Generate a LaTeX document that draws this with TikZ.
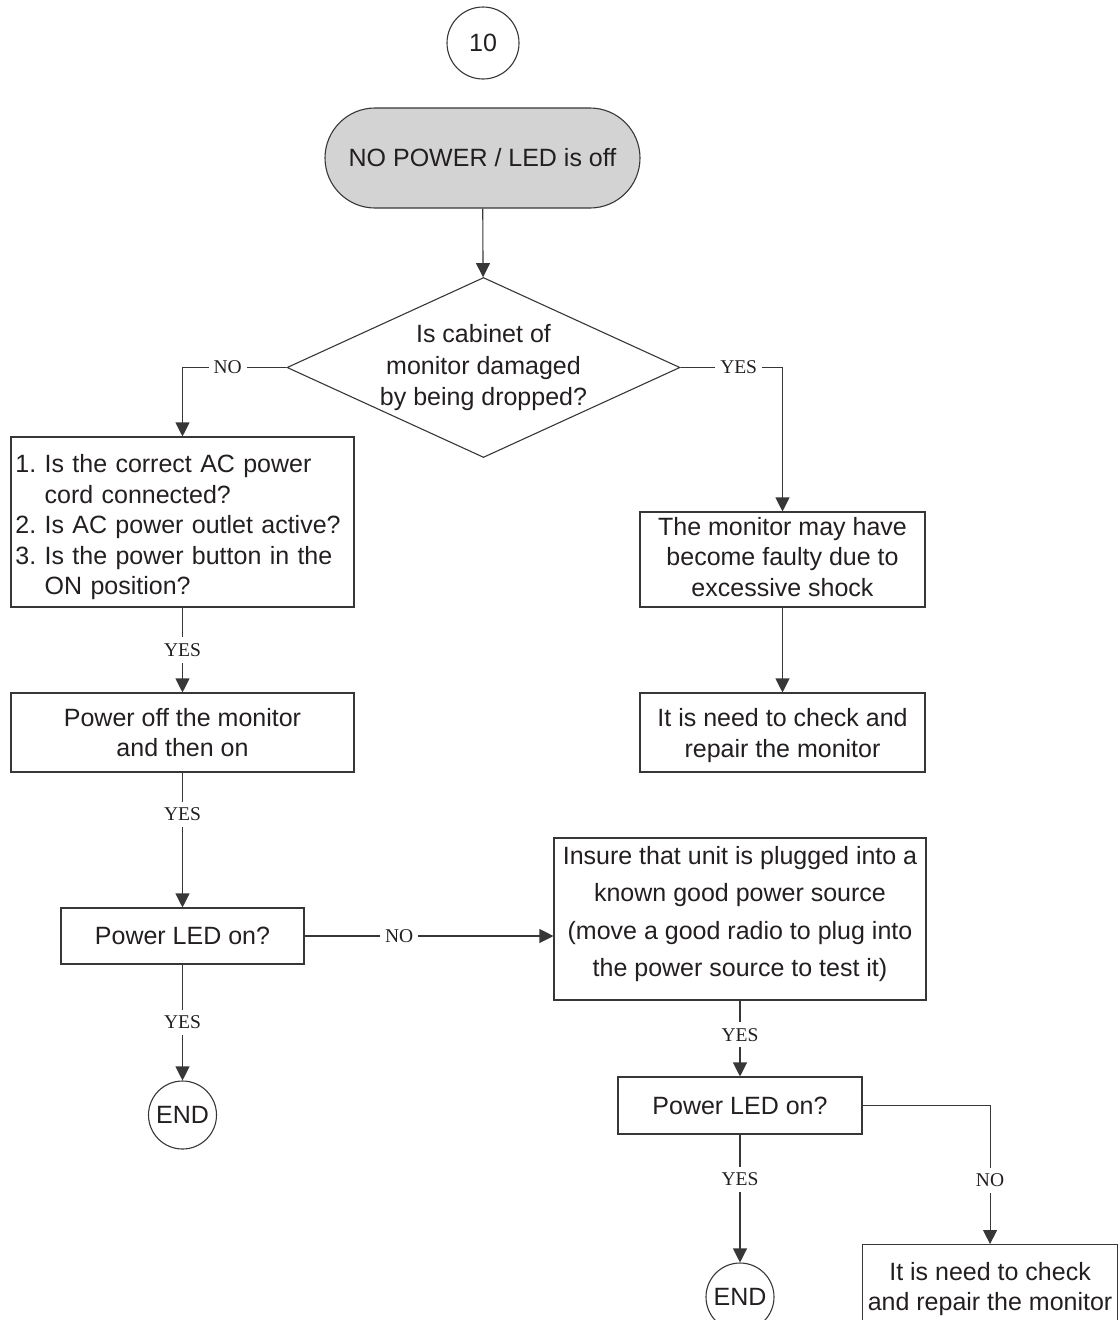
\documentclass[tikz,border=0pt]{standalone}
\usepackage{fontspec}
\setmainfont{Liberation Sans}
\newfontfamily\lblfont{Liberation Serif}
\usetikzlibrary{shapes.geometric,arrows.meta}
\definecolor{ink}{RGB}{35,31,32}
\definecolor{edge}{RGB}{55,55,55}
\definecolor{termfill}{RGB}{211,211,211}
\frenchspacing
\begin{document}
\frenchspacing
\begin{tikzpicture}[x=1pt,y=-1pt,
  every node/.style={font=\fontsize{25}{30.5}\selectfont\frenchspacing, text=ink},
  box/.style={draw=edge, line width=1.1pt, rectangle, inner sep=4pt, align=center},
  circ/.style={draw=edge, line width=1.1pt, circle, inner sep=0pt},
  conn/.style={draw=edge, line width=1.1pt},
  arr/.style={conn, -{Triangle[length=14pt,width=14pt]}},
  lbl/.style={font=\lblfont\fontsize{19.5}{19.5}\selectfont, fill=white, inner xsep=5pt, inner ysep=6pt}
]
\useasboundingbox (0,0) rectangle (1119,1320);
\clip (0,0) rectangle (1119,1320);

% nodes
\node[circ, minimum size=72pt] (c10) at (483,43) {10};
\node[box, fill=termfill, minimum width=315pt, minimum height=100pt, rounded corners=50pt] (start) at (482.5,158) {NO POWER / LED is off};
\node[draw=edge, line width=1.1pt, diamond, minimum width=393pt, minimum height=180pt, inner sep=0pt] (dec) at (483.5,367.5) {};
\node[align=center, inner sep=0pt, font=\fontsize{25}{31.5}\selectfont] (dectext) at (483.5,368) {Is cabinet of\\monitor damaged\\by being dropped?};
\node[box, minimum width=343pt, minimum height=170pt] (qa) at (182.5,522) {};
\node[align=left, inner sep=0pt, text width=337pt] (qatext) at (184,527.5) {1. Is the correct AC power\\\hphantom{1. }cord connected?\\2. Is AC power outlet active?\\3. Is the power button in the\\\hphantom{3. }ON position?};
\node[box, minimum width=285pt, minimum height=95pt] (fault) at (782.5,559.5) {The monitor may have\\become faulty due to\\excessive shock\rule[-6pt]{0pt}{1pt}};
\node[box, minimum width=285pt, minimum height=79pt] (rep1) at (782.5,732.5) {\rule{0pt}{24pt}It is need to check and\\repair the monitor};
\node[box, minimum width=343pt, minimum height=79pt] (cycle) at (182.5,732.5) {Power off the monitor\\and then on};
\node[box, minimum width=243pt, minimum height=56pt] (led1) at (182.5,936) {Power LED on?};
\node[box, minimum width=372pt, minimum height=162pt] (src) at (740,919) {};
\node[align=center, inner sep=0pt, font=\fontsize{25}{37.5}\selectfont] (srctext) at (740,914) {Insure that unit is plugged into a\\known good power source\\(move a good radio to plug into\\the power source to test it)};
\node[box, minimum width=244pt, minimum height=57pt] (led2) at (740,1105.5) {Power LED on?};
\node[circ, minimum size=68pt] (end1) at (182.5,1115) {END};
\node[circ, minimum size=68pt] (end2) at (740,1297) {END};
\node[box, minimum width=255pt, minimum height=90pt, anchor=north west] (rep2) at (862,1244) {It is need to check\\and repair the monitor\rule[-6pt]{0pt}{1pt}};

% connectors
\draw[arr] (start) -- (dec);
\draw[arr] (dec.west) -- node[lbl, pos=0.565]{NO} (dec.west -| qa.north) -- (qa.north);
\draw[arr] (dec.east) -- node[lbl, pos=0.57]{YES} (dec.east -| fault.north) -- (fault.north);
\draw[arr] (fault) -- (rep1);
\draw[arr] (qa) -- node[lbl]{YES} (cycle);
\draw[arr] (cycle) -- node[lbl, pos=0.31]{YES} (led1);
\draw[arr] (led1) -- node[lbl, pos=0.38]{NO} (led1.east -| src.west);
\draw[arr] (led1) -- node[lbl]{YES} (end1);
\draw[arr] (src) -- node[lbl, pos=0.45]{YES} (led2);
\draw[arr] (led2) -- node[lbl, pos=0.35]{YES} (end2);
\draw[arr] (led2.east) -- (led2.east -| rep2.north) -- node[lbl, pos=0.54]{NO} (rep2.north);
\end{tikzpicture}
\end{document}
